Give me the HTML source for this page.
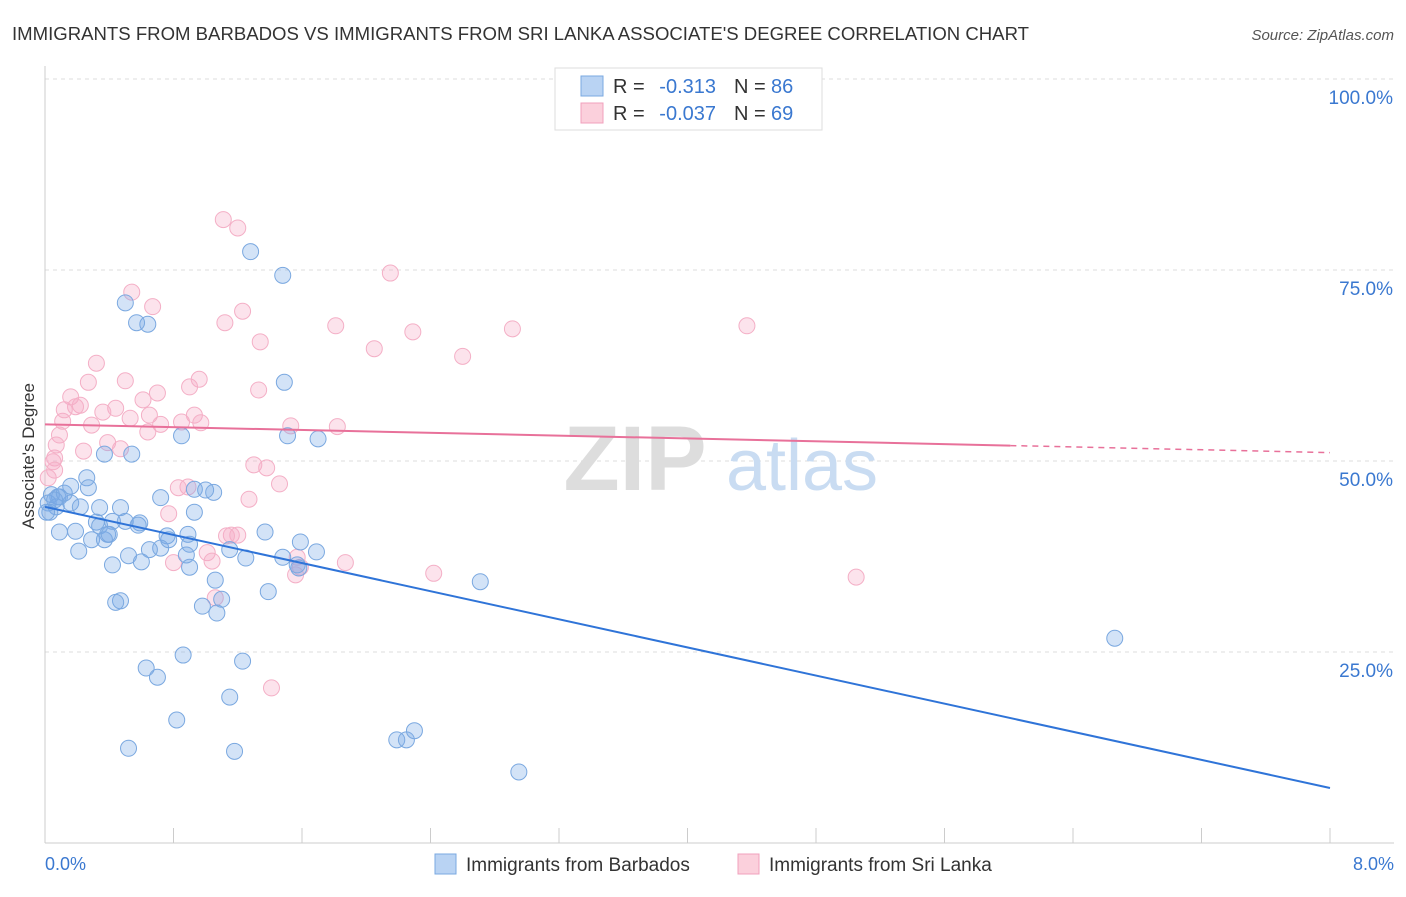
<!DOCTYPE html>
<html><head><meta charset="utf-8">
<style>
body{margin:0;background:#fff;font-family:"Liberation Sans",sans-serif;}
svg text{font-family:"Liberation Sans",sans-serif;}
</style></head>
<body>
<svg id="chart" width="1406" height="892" viewBox="0 0 1406 892" xmlns="http://www.w3.org/2000/svg">
<text x="12" y="40" font-size="18" fill="#333" textLength="1017" lengthAdjust="spacingAndGlyphs">IMMIGRANTS FROM BARBADOS VS IMMIGRANTS FROM SRI LANKA ASSOCIATE'S DEGREE CORRELATION CHART</text>
<text x="1394" y="40" font-size="15" fill="#555" text-anchor="end" font-style="italic">Source: ZipAtlas.com</text>
<g id="grid"></g>
<g>
<text x="635" y="490" font-size="92" font-family="Liberation Serif" fill="#ddd" text-anchor="middle" font-weight="bold">ZIP</text>
<text x="802" y="490" font-size="72" fill="#c9dcf2" text-anchor="middle">atlas</text>
</g>
<g id="ticks"></g>
<g id="pinkDots"></g>
<g id="blueDots"></g>
<g id="trends"></g>
<text x="34" y="456" font-size="17" fill="#333" text-anchor="middle" transform="rotate(-90 34 456)">Associate's Degree</text>
<text x="45" y="870" font-size="18" fill="#3a78d0">0.0%</text>
<text x="1394" y="870" font-size="18" fill="#3a78d0" text-anchor="end">8.0%</text>
<g>
<rect x="555" y="68" width="267" height="62" fill="#fff" stroke="#ddd"/>
<rect x="581" y="76" width="22" height="20" fill="#b9d3f3" stroke="#7aa8e0"/>
<rect x="581" y="103" width="22" height="20" fill="#fbd0dc" stroke="#f0a0bc"/>
<text x="613" y="93" font-size="20" fill="#333">R =</text>
<text x="716" y="93" font-size="20" fill="#3a78d0" text-anchor="end">-0.313</text>
<text x="734" y="93" font-size="20" fill="#333">N =</text>
<text x="771" y="93" font-size="20" fill="#3a78d0">86</text>
<text x="613" y="120" font-size="20" fill="#333">R =</text>
<text x="716" y="120" font-size="20" fill="#3a78d0" text-anchor="end">-0.037</text>
<text x="734" y="120" font-size="20" fill="#333">N =</text>
<text x="771" y="120" font-size="20" fill="#3a78d0">69</text>
</g>
<g>
<rect x="435" y="854" width="21" height="20" fill="#b9d3f3" stroke="#7aa8e0"/>
<text x="466" y="871" font-size="19" fill="#333">Immigrants from Barbados</text>
<rect x="738" y="854" width="21" height="20" fill="#fbd0dc" stroke="#f0a0bc"/>
<text x="769" y="871" font-size="19" fill="#333">Immigrants from Sri Lanka</text>
</g>
</svg>
<script>
const yTicks=[25,50,75,100];
const yTickLabels=["25.0%","50.0%","75.0%","100.0%"];
const xTickVals=[0,0.8,1.6,2.4,3.2,4,4.8,5.6,6.4,7.2,8];
const blueX=[1.28,1.48,0.50,0.64,0.57,1.49,0.85,1.51,1.70,0.54,0.37,0.26,0.27,0.09,0.04,0.02,0.07,0.16,0.22,0.03,0.72,0.93,1.05,1.00,0.34,0.47,0.93,0.50,0.32,0.34,0.42,0.59,0.58,0.09,0.19,0.29,0.39,0.37,0.89,0.76,0.72,0.65,0.90,1.15,1.37,1.25,0.21,0.52,0.42,0.60,0.90,1.48,1.59,1.69,1.58,1.57,1.06,1.10,1.39,0.98,1.07,0.47,0.44,2.71,0.86,0.63,0.70,1.23,1.15,0.82,0.52,1.18,2.19,2.25,2.30,2.95,6.66,0.08,0.12,0.06,0.01,0.40,0.77,0.88,0.16];
const blueY=[77.4,74.3,70.7,67.9,68.1,60.3,53.3,53.3,52.9,50.9,50.9,47.8,46.5,45.3,45.6,44.5,44.0,44.5,44.0,43.3,45.2,46.3,45.9,46.2,43.9,43.9,43.3,42.1,42.0,41.5,42.1,41.9,41.6,40.7,40.8,39.7,40.4,39.7,40.4,40.2,38.6,38.4,39.1,38.4,40.7,37.3,38.2,37.6,36.4,36.8,36.1,37.4,39.4,38.1,36.0,36.4,34.4,31.9,32.9,31.0,30.1,31.7,31.5,34.2,24.6,22.9,21.7,23.8,19.1,16.1,12.4,12.0,13.5,13.5,14.7,9.3,26.8,45.3,45.8,44.9,43.3,40.4,39.7,37.7,46.7];
const pinkX=[1.11,1.20,2.15,0.54,0.67,1.23,1.12,1.81,2.29,2.91,4.37,1.34,2.05,2.60,0.32,0.50,0.27,0.96,0.90,0.70,0.16,1.33,0.22,0.19,0.44,0.36,0.61,0.53,0.65,0.93,0.72,0.85,0.11,0.29,0.97,1.53,1.82,0.64,0.09,0.39,0.47,0.24,0.06,0.05,0.06,1.30,1.38,1.46,0.89,0.83,0.77,1.27,1.16,1.20,1.13,1.01,1.04,0.80,1.57,1.59,1.56,1.87,2.42,5.05,1.06,1.41,0.02,0.07,0.12];
const pinkY=[81.6,80.5,74.6,72.1,70.2,69.6,68.1,67.7,66.9,67.3,67.7,65.6,64.7,63.7,62.8,60.5,60.3,60.7,59.7,58.9,58.4,59.3,57.3,57.1,56.9,56.4,58.0,55.6,56.0,56.0,54.8,55.1,55.2,54.7,55.0,54.6,54.5,53.8,53.4,52.4,51.6,51.3,50.4,49.9,48.8,49.5,49.1,47.0,46.6,46.5,43.1,45.0,40.3,40.3,40.2,38.0,36.9,36.7,37.4,36.1,35.1,36.7,35.3,34.8,32.1,20.3,47.8,52.1,56.7];
const blueTrend=[44.0,7.2];
const pinkTrend=[54.8,51.1];
const pinkSolidEnd=6.01;

const NS="http://www.w3.org/2000/svg";
function xs(v){return 45+v/8*1285;}
function ys(v){return 843-v/100*764;}
function mk(tag,attrs,parent){const e=document.createElementNS(NS,tag);for(const k in attrs)e.setAttribute(k,attrs[k]);parent.appendChild(e);return e;}
const grid=document.getElementById('grid');
yTicks.forEach((t,i)=>{
  const l=mk('line',{x1:45,x2:1394,y1:ys(t),y2:ys(t),stroke:'#ddd','stroke-dasharray':'4,4'},grid);
  
  
  const tx=mk('text',{x:1393,y:ys(t)+25,'font-size':19,fill:'#3a78d0','text-anchor':'end'},grid);
  tx.textContent=yTickLabels[i];
  
  
});
const ticks=document.getElementById('ticks');
mk('line',{x1:45,x2:45,y1:66,y2:843,stroke:'#ccc'},ticks);
mk('line',{x1:45,x2:1394,y1:843,y2:843,stroke:'#ccc'},ticks);
xTickVals.forEach(v=>{
  const t=mk('line',{x1:xs(v),x2:xs(v),y1:828,y2:843,stroke:'#ccc'},ticks);
  
  
});
const pg=document.getElementById('pinkDots');
pinkX.forEach((x,i)=>{
  const c=mk('circle',{cx:xs(x),cy:ys(pinkY[i]),r:8,fill:'rgba(246,170,196,0.33)',stroke:'#f4afc6','stroke-width':1},pg);
  
  
});
const bg=document.getElementById('blueDots');
blueX.forEach((x,i)=>{
  const c=mk('circle',{cx:xs(x),cy:ys(blueY[i]),r:8,fill:'rgba(120,170,232,0.33)',stroke:'#7aa8e0','stroke-width':1},bg);
  
  
});
const tg=document.getElementById('trends');
const b=mk('line',{x1:xs(0),y1:ys(blueTrend[0]),x2:xs(8),y2:ys(blueTrend[1]),stroke:'#2f74d8','stroke-width':2},tg);


const pAt=v=>pinkTrend[0]+(pinkTrend[1]-pinkTrend[0])*v/8;
const p1=mk('line',{x1:xs(0),y1:ys(pinkTrend[0]),x2:xs(pinkSolidEnd),y2:ys(pAt(pinkSolidEnd)),stroke:'#e8719a','stroke-width':2},tg);


const p2=mk('line',{x1:xs(pinkSolidEnd),y1:ys(pAt(pinkSolidEnd)),x2:xs(8),y2:ys(pinkTrend[1]),stroke:'#e8719a','stroke-width':1.5,'stroke-dasharray':'6,5'},tg);


</script>
</body></html>
